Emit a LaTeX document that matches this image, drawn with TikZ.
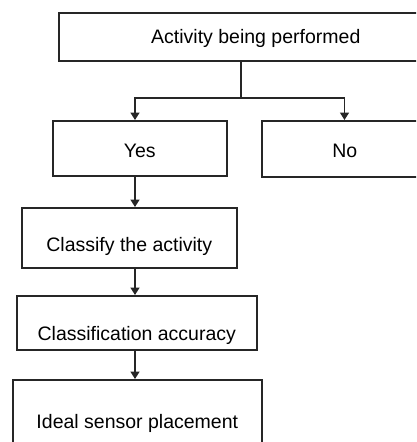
\documentclass[tikz,border=0pt]{standalone}
\usepackage{fontspec}
\setmainfont{Liberation Sans}
\usetikzlibrary{arrows.meta}
\begin{document}
\begin{tikzpicture}[x=1pt,y=-1pt,
  box/.style={draw=black!85, line width=1.6pt, inner sep=0pt, anchor=north west,
    font=\fontsize{19.5}{22}\selectfont, text depth=4pt},
  ln/.style={draw=black!85, line width=1.6pt},
  arr/.style={ln, -{Triangle[width=9pt,length=7.5pt]}}]
\useasboundingbox (0,0) rectangle (416,442);
\clip (0,0) rectangle (416,442);
\node[box, minimum width=394pt, minimum height=48pt, text height=18pt] (top) at (58,12) {Activity being performed};
\node[box, minimum width=174pt, minimum height=55pt, text height=23pt] (yes) at (52,120) {Yes};
\node[box, minimum width=166pt, minimum height=56pt, text height=22pt] (no) at (261,120) {No};
\node[box, minimum width=215pt, minimum height=60pt, text height=32pt] (cls) at (21,207) {Classify the activity};
\node[box, minimum width=240pt, minimum height=54pt, text height=39pt] (acc) at (16,295) {Classification accuracy};
\node[box, minimum width=249pt, minimum height=84pt, text height=18pt] (ideal) at (12,379) {Ideal sensor placement};
\coordinate (j) at (241,98);
\coordinate (cl) at (135,0);
\coordinate (cr) at (344.5,0);
\draw[ln] (top.south -| j) -- (j);
\draw[arr] (j) -| (yes.north -| cl);
\draw[arr] (j) -| (no.north -| cr);
\draw[arr] (yes.south -| cl) -- (cls.north -| cl);
\draw[arr] (cls.south -| cl) -- (acc.north -| cl);
\draw[arr] (acc.south -| cl) -- (ideal.north -| cl);
\end{tikzpicture}
\end{document}
